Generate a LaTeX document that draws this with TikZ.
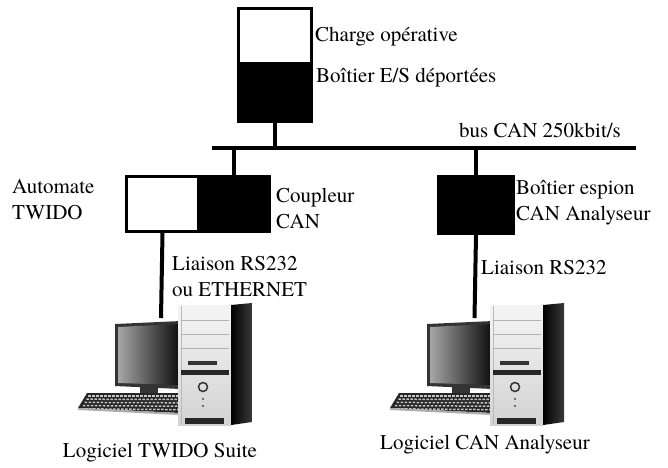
\documentclass[tikz,border=0pt]{standalone}
\usepackage{fontspec}
\setmainfont{texgyretermes}[Extension=.otf,UprightFont=*-regular,BoldFont=*-bold]
\usepackage{tikz}
\usetikzlibrary{calc}
\usetikzlibrary{shadings}

\tikzset{
	blocw/.style={draw,line width=3pt,fill=white,inner sep=0pt,anchor=north west},
	blocn/.style={blocw,fill=black},
	fil/.style={line width=4pt},
	lbl/.style={anchor=west,inner sep=0pt,align=left,font=\fontsize{21}{26}\selectfont},
	lblc/.style={lbl,anchor=center,align=center},
}

% poste PC (ecran, clavier, tour), decale de #1
\newcommand{\postePC}[1]{%
	\begin{scope}[shift={#1}]
		% ecran
		\fill[black!80] (115,324) -- (181,321) -- (181,389) -- (115,386) -- cycle;
		\shade[left color=gray!70,right color=black!95] (118,327) -- (180,324) -- (180,385) -- (118,383) -- cycle;
		\fill[gray!40!black] (140,386) rectangle (158,396);
		\fill[gray!60!black] (149,397) ellipse (19 and 3);
		% clavier
		\fill[gray!30!black] (87,393) -- (180,393) -- (180,413) -- (78,408) -- cycle;
		\foreach \r in {0,...,4}
			\draw[gray!45,line width=1.5pt,dash pattern=on 2.5pt off 1.5pt] (88-\r*1.7,396+\r*3.2) -- (178,396+\r*3.4);
		\draw[gray!65,line width=2pt] (78,409) -- (180,414);
		% tour
		\shade[top color=gray!8,bottom color=gray!35] (178,305) rectangle (231,425);
		\draw[gray!55,line width=0.6pt] (181,306) -- (181,424);
		\foreach \y in {320,334,348}
			\draw[gray!60,line width=0.8pt] (181,\y) -- (229,\y);
		\fill[black!80] (188,361) rectangle (217,365);
		\fill[black!85] (181,370) rectangle (229,375);
		\draw[black!80,line width=1.5pt] (203,387) circle (4.5);
		\fill[black!70] (203,399) circle (1.2);
		\fill[black!70] (203,406) circle (1.2);
		\fill[black!85] (185,418) rectangle (224,424);
		\shade[left color=black,right color=gray!45!black] (231,305) -- (252,303) -- (252,422) -- (231,425) -- cycle;
	\end{scope}
}

\begin{document}
\begin{tikzpicture}[x=1pt,y=-1pt]
	\useasboundingbox (0,0) rectangle (668,467);

	% boitier deporte
	\node[blocw,minimum width=73pt,minimum height=55pt] (charge) at (237,7) {};
	\node[blocn,minimum width=73pt,minimum height=58pt] (eso) at (237,62) {};
	\node[lbl] (lcharge) at (315,37) {Charge opérative};
	\node[lbl] (leso) at (316,78) {Boîtier E/S déportées};

	% bus
	\coordinate (busG) at (212,148);
	\coordinate (busD) at (636,148);
	\draw[fil] (busG) -- (busD);
	\node[lbl] (lbus) at (459,130) {bus CAN 250kbit/s};
	\draw[fil] (eso.south) -- (eso.south |- busG);

	% automate + coupleur
	\node[blocw,minimum width=72pt,minimum height=55pt] (twido) at (125,175) {};
	\node[blocn,minimum width=71pt,minimum height=55pt] (coupleur) at (197,175) {};
	\node[lbl] (ltwido) at (12,200) {Automate\\TWIDO};
	\node[lbl] (lcoupleur) at (276,208) {Coupleur\\CAN};
	\draw[fil] (coupleur.north) -- (coupleur.north |- busG);

	% boitier espion
	\node[blocn,minimum width=75pt,minimum height=57pt] (espion) at (437,175) {};
	\node[lbl] (lespion) at (516,203) {Boîtier espion\\CAN Analyseur};
	\draw[fil] (espion.north) -- (espion.north |- busG);

	% liaisons vers les PC
	\coordinate (pcG) at (161,318);
	\coordinate (pcD) at (474.5,318);
	\draw[fil] (twido.south) -- (pcG);
	\draw[fil] (espion.south) -- (pcD);
	\node[lbl] (lrsG) at (172,277) {Liaison RS232\\ou ETHERNET};
	\node[lbl] (lrsD) at (481,268) {Liaison RS232};

	\postePC{(0,0)}
	\postePC{(312,0)}

	\node[lblc] (lsuite) at (160,453) {Logiciel TWIDO Suite};
	\node[lblc] (lanalyseur) at (485,445) {Logiciel CAN Analyseur};
\end{tikzpicture}
\end{document}
